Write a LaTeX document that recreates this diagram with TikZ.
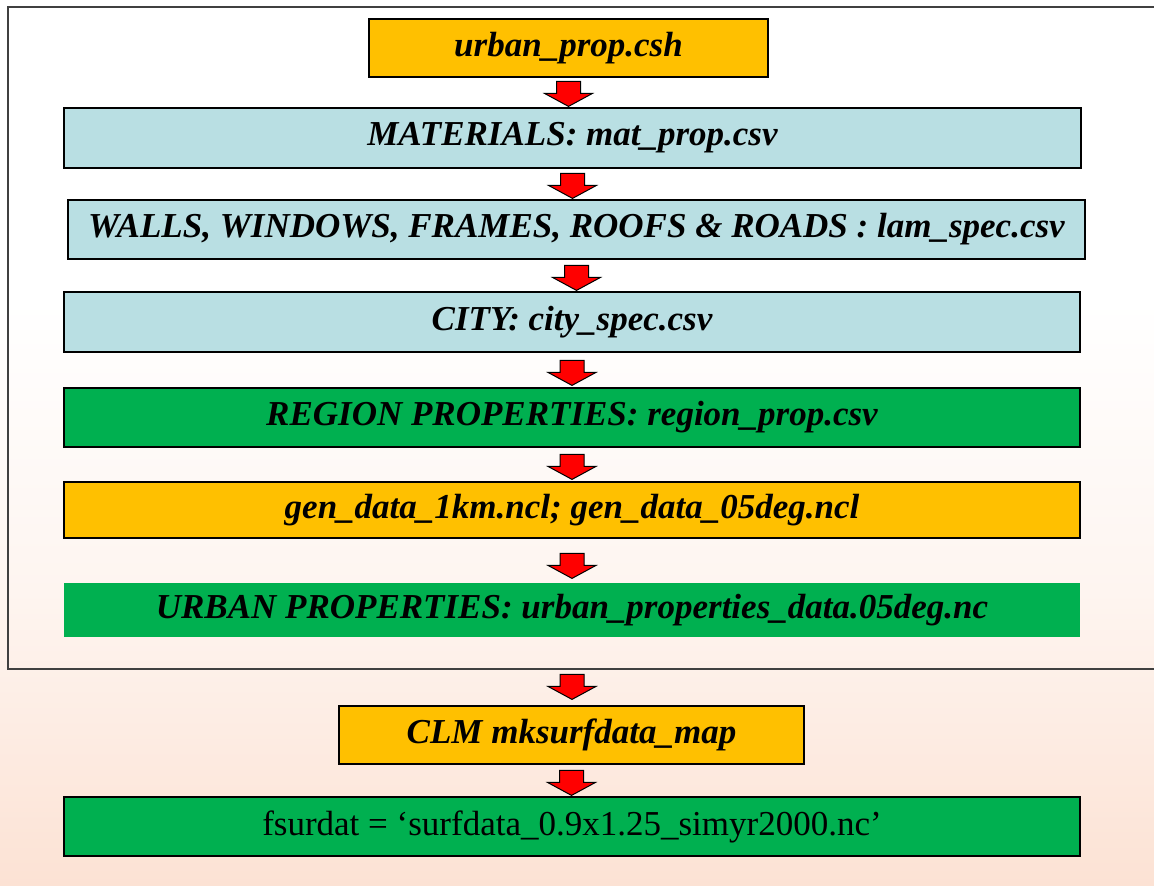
\documentclass[tikz,border=0pt]{standalone}
\usepackage{fontspec}
\setmainfont{Liberation Serif}
\usepackage{tikz}
\usetikzlibrary{calc}
\definecolor{scriptorange}{HTML}{FFC000}
\definecolor{tableblue}{HTML}{B9DFE3}
\definecolor{datagreen}{HTML}{00B050}
\definecolor{peach}{RGB}{252,226,212}

\begin{document}
\begin{tikzpicture}[x=1pt,y=-1pt,
  box/.style={rectangle,draw=black,line width=1.2pt,inner sep=0pt,
    font=\fontsize{35}{40}\selectfont\bfseries\itshape},
  script node/.style={box,fill=scriptorange},
  table node/.style={box,fill=tableblue,minimum width=1017pt},
  data node/.style={box,fill=datagreen,minimum width=1016pt},
  blockarrow/.style={draw=black,fill=red,line width=1pt,line join=miter,
    to path={($(\tikztostart|-\tikztotarget)+(-12,-#1-25)$) -- ++(24,0) -- ++(0,12)
      -- ++(12,0) -- ++(-24,13) -- ++(-24,-13) -- ++(12,0) -- cycle}},
  blockarrow/.default=1]

  \useasboundingbox (0,0) rectangle (1154,886);
  \fill[white] (0,0) rectangle (1154,300);
  \shade[top color=white,bottom color=peach,middle color=peach!35] (0,300) rectangle (1154,886);
  \draw[black!75,line width=1.2pt] (1154,7) -- (8,7) -- (8,669) -- (1154,669);

  \node[script node,minimum width=399pt,minimum height=58pt] (urban) at (568.5,48) {urban\_prop.csh};
  \node[table node,minimum height=60pt] (mat) at (572.5,138) {MATERIALS: mat\_prop.csv};
  \node[table node,minimum height=59pt] (lam) at (576.5,229.5) {WALLS, WINDOWS, FRAMES, ROOFS \& ROADS : lam\_spec.csv};
  \node[table node,minimum width=1016pt,minimum height=60pt] (city) at (572,322) {CITY: city\_spec.csv};
  \node[data node,minimum height=59pt] (region) at (572,417.5) {REGION PROPERTIES: region\_prop.csv};
  \node[script node,minimum width=1016pt,minimum height=56pt] (gen) at (572,510) {gen\_data\_1km.ncl; gen\_data\_05deg.ncl};
  \node[data node,draw=none,minimum height=54pt] (props) at (572,610) {URBAN PROPERTIES: urban\_properties\_data.05deg.nc};
  \node[script node,minimum width=465pt,minimum height=58pt] (clm) at (571.5,735) {CLM mksurfdata\_map};
  \node[data node,minimum height=59pt,font=\fontsize{35}{40}\selectfont] (fsurdat) at (572,826.5) {fsurdat = `surfdata\_0.9x1.25\_simyr2000.nc'};

  % red block arrows
  \draw[blockarrow] (urban.south) to (mat.north);
  \draw[blockarrow] (mat.south) to (lam.north);
  \draw[blockarrow] (lam.south) to (city.north);
  \draw[blockarrow=2] (city.south) to (region.north);
  \draw[blockarrow=2] (region.south) to (gen.north);
  \draw[blockarrow=4] (gen.south) to (props.north);
  \draw[blockarrow=6] (props.south) to (clm.north);
  \draw[blockarrow] (clm.south) to (fsurdat.north);
\end{tikzpicture}
\end{document}
